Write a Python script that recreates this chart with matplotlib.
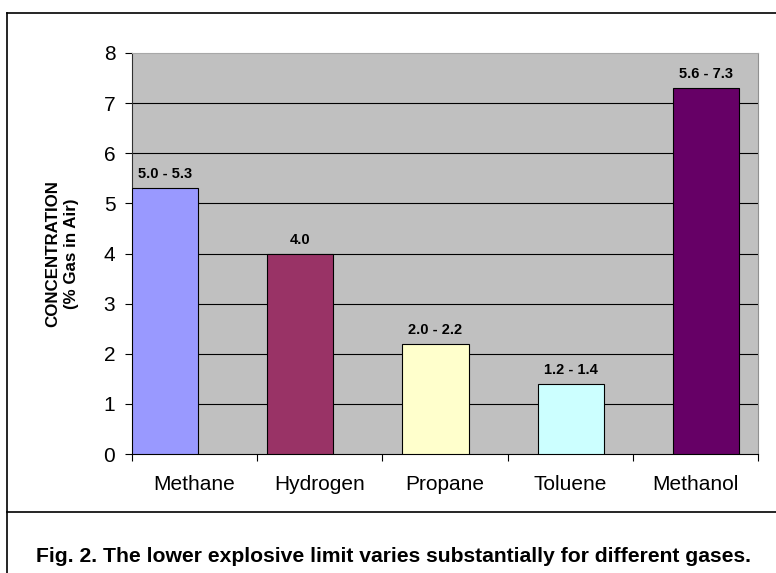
import numpy as np
import matplotlib
matplotlib.use("Agg")
import matplotlib.pyplot as plt
from matplotlib.lines import Line2D

plt.rcParams["font.family"] = ["Liberation Sans", "DejaVu Sans"]

# Lower explosive limit (% gas in air) for each gas
gases = ["Methane", "Hydrogen", "Propane", "Toluene", "Methanol"]
lel_low = [5.0, 4.0, 2.0, 1.2, 5.6]
lel_high = [5.3, 4.0, 2.2, 1.4, 7.3]
bar_colors = ["#9999FF", "#993366", "#FFFFCC", "#CCFFFF", "#660066"]
y_ticks = [0, 1, 2, 3, 4, 5, 6, 7, 8]


def range_label(lo, hi):
    return f"{lo:.1f}" if lo == hi else f"{lo:.1f} - {hi:.1f}"


W, H = 776, 573
fig = plt.figure(figsize=(W / 100, H / 100), dpi=100)
ax = fig.add_axes([132 / W, 1 - 454 / H, 626 / W, 401 / H])
ax.set_facecolor("#C0C0C0")

# bars sit slightly off the category centres, drifting right across the axis
n = len(gases)
bar_x = 0.264 + 1.08 * np.arange(n)
bars = ax.bar(bar_x, lel_high, width=0.528, color=bar_colors,
              edgecolor="black", linewidth=0.8, zorder=3)

for b, lo, hi in zip(bars, lel_low, lel_high):
    ax.annotate(range_label(lo, hi),
                (b.get_x() + b.get_width() / 2, b.get_height()),
                xytext=(0, 5), textcoords="offset points",
                ha="center", va="bottom", fontsize=10.5, fontweight="bold")

for t in y_ticks[1:-1]:
    ax.axhline(t, color="black", linewidth=0.8, zorder=1)

ax.set_xlim(0, n)
ax.set_ylim(y_ticks[0], y_ticks[-1])
ax.set_yticks(y_ticks)
ax.set_xticks(np.arange(n) + 0.5)
ax.set_xticklabels(gases)
ax.set_xticks(np.arange(n + 1), minor=True)
ax.tick_params(axis="x", which="major", length=0, pad=15, labelsize=15)
ax.tick_params(axis="x", which="minor", length=5, width=0.8, direction="out")
ax.tick_params(axis="y", length=5, width=0.8, pad=7, labelsize=15)

ax.spines["left"].set_color("#303030")
ax.spines["bottom"].set_color("black")
ax.spines["right"].set_color("#909090")
ax.spines["top"].set_color("#A8A8A8")
for s in ax.spines.values():
    s.set_linewidth(0.8)

ax.set_ylabel("CONCENTRATION\n(% Gas in Air)", fontsize=12.2,
              fontweight="bold", linespacing=1.3, labelpad=18)

# outer frame and caption box
fig.add_artist(Line2D([7 / W, 1], [1 - 13 / H, 1 - 13 / H],
                      color="black", linewidth=1.2))
fig.add_artist(Line2D([7 / W, 7 / W], [0, 1 - 13 / H],
                      color="black", linewidth=1.2))
fig.add_artist(Line2D([7 / W, 1], [1 - 512 / H, 1 - 512 / H],
                      color="black", linewidth=1.2))

fig.text(36 / W, 1 - 557 / H,
         "Fig. 2. The lower explosive limit varies substantially for different gases.",
         ha="left", va="center", fontsize=15.2, fontweight="bold")

fig.savefig("out.png", dpi=100)
